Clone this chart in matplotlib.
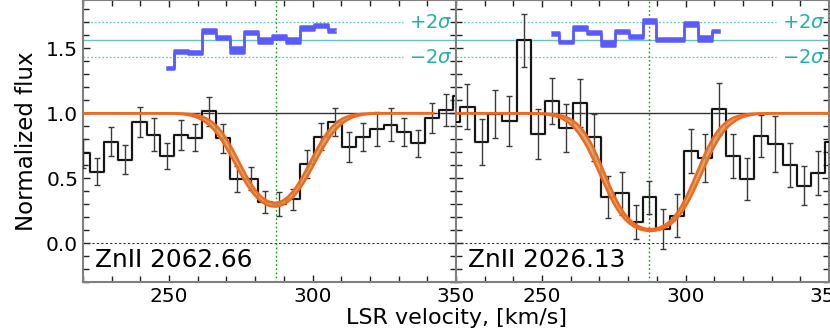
import numpy as np
import matplotlib
matplotlib.use('Agg')
import matplotlib.pyplot as plt
from matplotlib.ticker import MultipleLocator

# ---------------- data ----------------
vel_left = [220.1, 225.0, 229.9, 234.8, 239.7, 244.6, 249.4, 254.3, 259.2, 264.0,
            268.9, 273.8, 278.6, 283.5, 288.3, 293.1, 297.9, 302.8, 307.7, 312.6,
            317.5, 322.3, 327.2, 332.0, 336.9, 341.8, 346.6, 351.5]
flux_left = [0.69, 0.55, 0.78, 0.643, 0.93, 0.836, 0.671, 0.833, 0.812, 1.015,
             0.807, 0.49, 0.497, 0.315, 0.30, 0.338, 0.61, 0.82, 0.933, 0.741,
             0.818, 0.877, 0.912, 0.856, 0.769, 0.964, 1.023, 1.133]
err_left = [0.11, 0.105, 0.11, 0.11, 0.115, 0.125, 0.10, 0.115, 0.105, 0.112,
            0.11, 0.10, 0.09, 0.085, 0.09, 0.08, 0.11, 0.107, 0.108, 0.114,
            0.11, 0.13, 0.125, 0.11, 0.105, 0.118, 0.123, 0.12]

vel_right = [219.1, 224.0, 228.9, 233.7, 238.6, 243.6, 248.5, 253.4, 258.3, 263.1,
             268.0, 272.9, 277.8, 282.6, 287.4, 292.3, 297.1, 302.0, 306.9, 311.8,
             316.5, 321.4, 326.4, 331.3, 336.3, 341.2, 346.0, 350.9]
flux_right = [0.935, 1.051, 0.779, 0.995, 0.941, 1.561, 0.841, 1.095, 0.885, 1.077,
              0.815, 0.354, 0.382, 0.164, 0.351, 0.11, 0.212, 0.708, 0.654, 1.03,
              0.669, 0.492, 0.825, 0.762, 0.602, 0.441, 0.538, 0.777]
err_right = [0.18, 0.176, 0.178, 0.185, 0.19, 0.205, 0.195, 0.175, 0.185, 0.183,
             0.18, 0.16, 0.163, 0.13, 0.125, 0.155, 0.163, 0.172, 0.186, 0.2,
             0.17, 0.16, 0.165, 0.218, 0.17, 0.15, 0.17, 0.17]

# residuals (offset, scaled) shown at top of each panel
res_vel_left = [249.4, 254.3, 259.2, 264.0, 268.9, 273.8, 278.6, 283.5, 288.3, 293.1,
                297.9, 302.8, 307.7]
res_left = [1.351, 1.474, 1.466, 1.635, 1.582, 1.487, 1.623, 1.558, 1.585, 1.558,
            1.656, 1.674, 1.635]
res_hw_left = [0.008, 0.010, 0.010, 0.014, 0.012, 0.020, 0.014, 0.018, 0.015, 0.020,
               0.014, 0.012, 0.010]
res_vel_right = [253.4, 258.3, 263.1, 268.0, 272.9, 277.8, 282.6, 287.4, 292.3, 297.1,
                 302.0, 306.9, 311.8]
res_right = [1.612, 1.548, 1.656, 1.623, 1.538, 1.628, 1.589, 1.71, 1.569, 1.569,
             1.685, 1.577, 1.633]
res_hw_right = [0.010, 0.010, 0.012, 0.012, 0.020, 0.012, 0.012, 0.012, 0.010, 0.010,
                0.014, 0.020, 0.010]
res_center = 1.567
res_2sigma = 0.135

# model line parameters (Gaussian optical-depth profile)
model_v0 = [286.8, 287.8]
model_b = [13.6, 14.8]
model_tau = [1.22, 2.30]
model_dtau = [0.04, 0.03]
model_db = [0.6, 0.6]
model_vrange = [(215.0, 342.0), (215.0, 355.0)]

line_vel = [287.3, 287.4]
labels = ['ZnII 2062.66', 'ZnII 2026.13']

# ---------------- figure ----------------
W, H = 830, 332
fig = plt.figure(figsize=(W / 100, H / 100), dpi=100)
ax_l = fig.add_axes([83 / W, (H - 282) / H, 373 / W, 282 / H])
ax_r = fig.add_axes([456 / W, (H - 282) / H, 373 / W, 282 / H], sharey=ax_l)

panels = [
    (ax_l, vel_left, flux_left, err_left, res_vel_left, res_left, res_hw_left),
    (ax_r, vel_right, flux_right, err_right, res_vel_right, res_right, res_hw_right),
]

orange = '#f2691e'
tan = '#c8a264'
blue = '#5a5aff'
teal_txt = '#20b2aa'
teal_line = '#66c2c2'

for i, (ax, v, f, e, rv, r, rhw) in enumerate(panels):
    v = np.asarray(v); f = np.asarray(f); e = np.asarray(e)
    # reference lines
    ax.axhline(1.0, color='#333333', lw=1.0, zorder=1)
    ax.axhline(0.0, color='#333333', lw=0.8, ls=(0, (2, 2)), zorder=1)
    ax.axhline(res_center, color=teal_line, lw=1.0, zorder=1)
    for s in (+1, -1):
        ax.plot([220, 331.7], [res_center + s * res_2sigma] * 2, color=teal_line,
                lw=0.9, ls=(0, (1.5, 1.5)), zorder=1)
    ax.text(0.992, res_center + res_2sigma, r'$+2\sigma$', transform=ax.get_yaxis_transform(),
            ha='right', va='center', color=teal_txt, fontsize=14)
    ax.text(0.992, res_center - res_2sigma, r'$-2\sigma$', transform=ax.get_yaxis_transform(),
            ha='right', va='center', color=teal_txt, fontsize=14)
    ax.axvline(line_vel[i], color='#1a9a1a', lw=1.0, ls=(0, (1.2, 1.8)), zorder=2)

    # data
    ax.step(v, f, where='mid', color='#c8c8c8', lw=2.6, zorder=3, alpha=0.5)
    ax.step(v, f, where='mid', color='black', lw=1.3, zorder=4)
    ax.errorbar(v, f, yerr=e, fmt='none', ecolor='#3a3a3a', elinewidth=1.0,
                capsize=2.2, capthick=1.0, zorder=4)

    # model band
    vm = np.linspace(model_vrange[i][0], model_vrange[i][1], 800)
    t0, b0, v0 = model_tau[i], model_b[i], model_v0[i]
    dt, db = model_dtau[i], model_db[i]
    f_up = np.exp(-t0 * (1 - dt) * np.exp(-((vm - v0) / (b0 - db)) ** 2))
    f_lo = np.exp(-t0 * (1 + dt) * np.exp(-((vm - v0) / (b0 + db)) ** 2))
    ax.fill_between(vm, np.minimum(f_up, f_lo), np.maximum(f_up, f_lo), color=tan,
                    alpha=0.9, lw=0, zorder=5)
    ax.plot(vm, f_up, color=orange, lw=1.8, zorder=6)
    ax.plot(vm, f_lo, color=orange, lw=1.8, zorder=6)

    # residual band
    rv = np.asarray(rv); r = np.asarray(r); rhw = np.asarray(rhw)
    ax.fill_between(rv, r - rhw, r + rhw, step='mid', color=blue, lw=0, zorder=5)
    ax.step(rv, r - rhw, where='mid', color=blue, lw=1.8, zorder=5)
    ax.step(rv, r + rhw, where='mid', color=blue, lw=1.8, zorder=5)

    ax.text(0.032, 0.035, labels[i], transform=ax.transAxes, ha='left', va='bottom',
            fontsize=17.8, color='black', zorder=7)

    ax.set_xlim(220, 350)
    ax.xaxis.set_major_locator(MultipleLocator(50))
    ax.xaxis.set_minor_locator(MultipleLocator(10))
    ax.yaxis.set_major_locator(MultipleLocator(0.5))
    ax.yaxis.set_minor_locator(MultipleLocator(0.1))
    ax.tick_params(which='both', direction='in', top=True, right=True, color='#222222',
                   labelsize=14.5, width=1.0)
    ax.tick_params(which='major', length=5)
    ax.tick_params(which='minor', length=4)
    for sp in ax.spines.values():
        sp.set_color('#808080')
        sp.set_linewidth(1.5)

ax_l.set_ylim(-0.3, 1.872)
ax_l.yaxis.set_major_formatter(matplotlib.ticker.FormatStrFormatter('%.1f'))
ax_l.set_ylabel('Normalized flux', fontsize=16.5, labelpad=6)
plt.setp(ax_r.get_yticklabels(), visible=False)
ax_l.set_xticks([250, 300, 350])
ax_r.set_xticks([250, 300, 350])

fig.text(456 / W, 1 - 318 / H, 'LSR velocity, [km/s]', ha='center', va='center', fontsize=16)

fig.savefig('out.png', dpi=100)
